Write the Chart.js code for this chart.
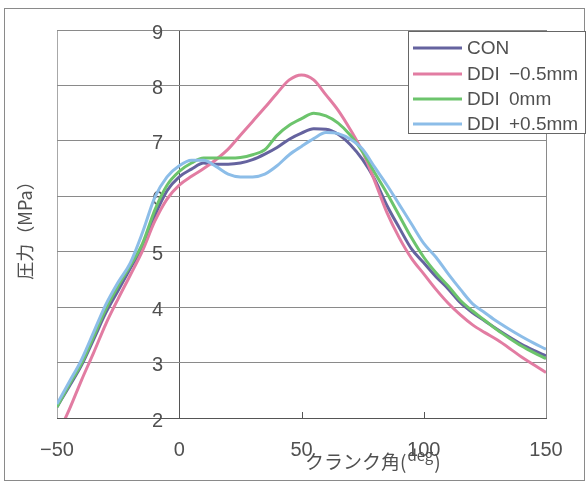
<!DOCTYPE html>
<html>
<head>
<meta charset="utf-8">
<script src="https://cdn.jsdelivr.net/npm/chart.js@4.4.1/dist/chart.umd.min.js"></script>
<style>
  html, body { margin: 0; padding: 0; background: #fff; }
  canvas { display: block; }
</style>
</head>
<body>
<canvas id="c" width="587" height="483"></canvas>
<script>
// ---- data ----
const crankAngles = [-50, -45, -40, -35, -30, -25, -20, -15, -10, -5, 0, 5, 10, 15, 20, 25, 30, 35, 40, 45, 50,
                     55, 60, 65, 70, 75, 80, 85, 90, 95, 100, 105, 110, 115, 120, 125, 130, 135, 140, 145, 150];
const seriesLabels = ['CON', 'DDI  −0.5mm', 'DDI  0mm', 'DDI  +0.5mm'];
const conValues = [2.2, 2.57, 2.95, 3.42, 3.9, 4.3, 4.7, 5.1, 5.65, 6.1, 6.35, 6.49, 6.6, 6.58, 6.58, 6.6, 6.66, 6.76, 6.88, 7.03, 7.14,
                   7.22, 7.21, 7.12, 6.93, 6.66, 6.3, 5.83, 5.43, 5.05, 4.8, 4.55, 4.33, 4.08, 3.9, 3.75, 3.6, 3.46, 3.33, 3.22, 3.12];
const ddiMinusValues = [1.68, 2.15, 2.68, 3.18, 3.7, 4.15, 4.58, 5.02, 5.55, 5.95, 6.2, 6.36, 6.5, 6.66, 6.85, 7.1, 7.35, 7.6, 7.86, 8.1, 8.19,
                        8.1, 7.83, 7.55, 7.2, 6.8, 6.27, 5.7, 5.25, 4.88, 4.6, 4.32, 4.07, 3.86, 3.68, 3.54, 3.41, 3.26, 3.1, 2.96, 2.82];
const ddiZeroValues = [2.2, 2.6, 2.98, 3.47, 3.97, 4.38, 4.75, 5.15, 5.75, 6.2, 6.45, 6.6, 6.69, 6.69, 6.69, 6.7, 6.75, 6.84, 7.1, 7.28, 7.4,
                       7.5, 7.45, 7.32, 7.1, 6.8, 6.42, 6.05, 5.65, 5.25, 4.9, 4.62, 4.38, 4.12, 3.93, 3.76, 3.59, 3.44, 3.3, 3.18, 3.07];
const ddiPlusValues = [2.25, 2.65, 3.05, 3.55, 4.05, 4.45, 4.8, 5.35, 5.98, 6.35, 6.55, 6.65, 6.65, 6.54, 6.4, 6.35, 6.35, 6.4, 6.55, 6.75, 6.9,
                       7.04, 7.15, 7.13, 7.03, 6.85, 6.52, 6.2, 5.85, 5.5, 5.15, 4.9, 4.6, 4.32, 4.06, 3.9, 3.74, 3.6, 3.47, 3.35, 3.24];
const xTickValues = [-50, 0, 50, 100, 150];
const yTickValues = [2, 3, 4, 5, 6, 7, 8, 9];
const xTitle = ['クランク角(', 'deg', ')'];
const yTitle = '圧力（MPa）';

const lineColors = ['#65639f', '#e27ca2', '#6cc46c', '#8cbde8'];
const allValues = [conValues, ddiMinusValues, ddiZeroValues, ddiPlusValues];
const drawOrder = [3, 2, 1, 0];

const textColor = '#505050';
const numFont = "'Liberation Sans', Arial, sans-serif";
const jpFont = "'Noto Sans CJK JP', sans-serif";

const datasets = allValues.map((vals, i) => ({
  label: seriesLabels[i],
  data: crankAngles.map((a, k) => ({ x: a, y: vals[k] })),
  borderColor: lineColors[i],
  backgroundColor: lineColors[i],
  borderWidth: 3,
  pointRadius: 0,
  cubicInterpolationMode: 'monotone',
  order: drawOrder[i]
}));

const framePlugin = {
  id: 'frame',
  beforeDraw(chart) {
    const c = chart.ctx;
    c.save();
    c.fillStyle = '#ffffff';
    c.fillRect(0, 0, chart.width, chart.height);
    c.strokeStyle = '#8a8a8a';
    c.lineWidth = 1;
    c.strokeRect(4.5, 8.5, 580, 472);
    c.restore();
  }
};

const decorPlugin = {
  id: 'decor',
  afterDraw(chart) {
    const c = chart.ctx;
    const ca = chart.chartArea;
    const xs = chart.scales.x;
    c.save();
    // inner tick marks on the bottom axis
    c.strokeStyle = '#555';
    c.lineWidth = 1;
    [50, 100].forEach(v => {
      const px = Math.round(xs.getPixelForValue(v)) + 0.5;
      c.beginPath();
      c.moveTo(px, ca.bottom);
      c.lineTo(px, ca.bottom - 6);
      c.stroke();
    });

    // x axis title
    c.fillStyle = textColor;
    c.textBaseline = 'middle';
    const f1 = '19px ' + jpFont, f2 = '15px ' + jpFont;
    c.font = f1; const w1 = c.measureText(xTitle[0]).width;
    c.font = f2; const w2 = c.measureText(xTitle[1]).width;
    c.font = f1;
    let tx = ca.left + 248;
    const ty = ca.bottom + 44;
    c.textAlign = 'left';
    c.font = f1; c.fillText(xTitle[0], tx, ty); tx += w1 + 1;
    c.font = f2; c.fillText(xTitle[1], tx, ty - 7); tx += w2 + 1;
    c.font = f1; c.fillText(xTitle[2], tx, ty);

    // y axis title
    c.save();
    c.translate(25, (ca.top + ca.bottom) / 2 + 2);
    c.rotate(-Math.PI / 2);
    c.textAlign = 'center';
    c.font = '18px ' + jpFont;
    c.fillText(yTitle, 0, 0);
    c.restore();

    // legend
    const bx = ca.right - 138, by = ca.top + 1;
    const bw = 587 - 1 - bx, bh = 103;
    c.fillStyle = '#ffffff';
    c.fillRect(bx, by, bw, bh);
    c.strokeStyle = '#666';
    c.lineWidth = 1;
    c.strokeRect(bx + 0.5, by + 0.5, bw - 1, bh - 1);
    const rowY = [17, 43, 68, 93];
    chart.data.datasets.forEach((ds, i) => {
      const y = by + rowY[i];
      c.strokeStyle = ds.borderColor;
      c.lineWidth = 3;
      c.beginPath();
      c.moveTo(bx + 5, y);
      c.lineTo(bx + 54, y);
      c.stroke();
      c.fillStyle = textColor;
      c.font = '19px ' + numFont;
      c.textAlign = 'left';
      c.textBaseline = 'middle';
      const parts = ds.label.split('  ');
      c.fillText(parts[0], bx + 59, y + 1);
      if (parts[1]) c.fillText(parts[1], bx + 101, y + 1);
    });
    c.restore();
  }
};

new Chart(document.getElementById('c'), {
  type: 'line',
  data: { datasets },
  plugins: [framePlugin, decorPlugin],
  options: {
    responsive: false,
    animation: false,
    devicePixelRatio: 1,
    layout: { padding: { top: 30, right: 41, left: 0, bottom: 0 } },
    plugins: { legend: { display: false }, tooltip: { enabled: false } },
    scales: {
      x: {
        type: 'linear',
        min: -50, max: 150,
        afterFit(s) { s.height = 65; s.paddingLeft = 0; s.paddingRight = 0; },
        afterBuildTicks(s) { s.ticks = xTickValues.map(v => ({ value: v })); },
        ticks: {
          padding: 20,
          color: textColor,
          font: { family: numFont, size: 20 },
          callback: v => String(v).replace('-', '−')
        },
        grid: {
          drawTicks: false,
          color: ctx => {
            const v = ctx.tick && ctx.tick.value;
            if (v === 0) return '#555';
            if (v === -50) return '#a8a8a8';
            if (v === 150) return '#8a8a8a';
            return 'rgba(0,0,0,0)';
          }
        },
        border: { display: true, color: '#555', width: 1 }
      },
      y: {
        type: 'linear',
        min: 2, max: 9,
        afterFit(s) { s.width = 57; s.paddingTop = 0; s.paddingBottom = 0; },
        afterBuildTicks(s) { s.ticks = yTickValues.map(v => ({ value: v })); },
        ticks: {
          mirror: true,
          padding: 95,
          labelOffset: 3,
          color: textColor,
          font: { family: numFont, size: 20 }
        },
        grid: { drawTicks: false, color: '#8a8a8a' },
        border: { display: false }
      }
    }
  }
});
</script>
</body>
</html>
